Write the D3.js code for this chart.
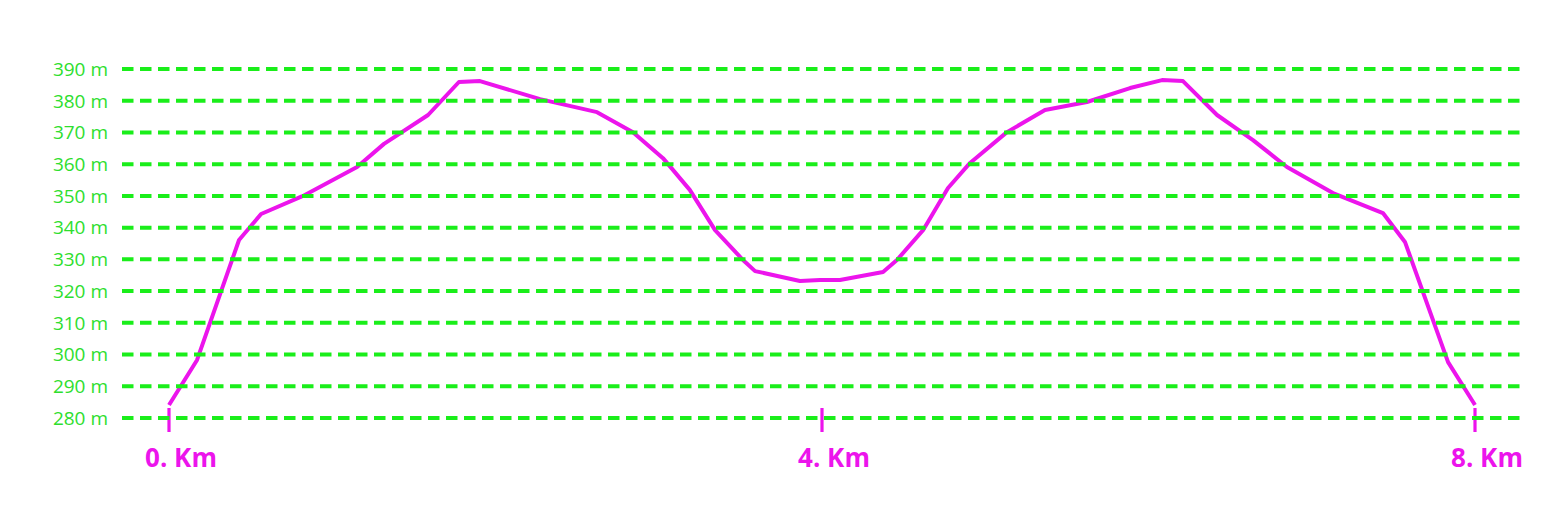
<!DOCTYPE html>
<html>
<head>
<meta charset="utf-8">
<script src="https://cdn.jsdelivr.net/npm/d3@7"></script>
<style>
  html, body { margin: 0; padding: 0; background: #ffffff; }
  svg { display: block; }
</style>
</head>
<body>
<svg id="chart" width="1559" height="510"></svg>
<script>
// ---- data ----
const distanceKm = [0, 0.172, 0.429, 0.564, 0.821, 1.152, 1.317, 1.587, 1.776, 1.905,
  2.273, 2.622, 2.842, 3.026, 3.19, 3.345, 3.516, 3.59, 3.865, 3.988,
  4.11, 4.374, 4.459, 4.619, 4.772, 4.907, 5.133, 5.366, 5.623, 5.887,
  6.083, 6.211, 6.42, 6.64, 6.848, 7.13, 7.436, 7.571, 7.835, 8.0];
const elevationM = [284.1, 298.3, 336.1, 344.3, 350.0, 359.1, 366.4, 375.5, 385.9, 386.2,
  380.5, 376.4, 370.1, 361.9, 351.9, 339.2, 329.8, 326.3, 323.2, 323.5,
  323.5, 326.0, 329.8, 339.2, 352.5, 360.4, 370.1, 377.1, 379.6, 384.0,
  386.5, 386.2, 375.5, 367.6, 359.1, 350.9, 344.6, 335.5, 297.6, 284.1];
const yTickValues = [280, 290, 300, 310, 320, 330, 340, 350, 360, 370, 380, 390];
const yTickLabels = ["280 m", "290 m", "300 m", "310 m", "320 m", "330 m", "340 m", "350 m", "360 m", "370 m", "380 m", "390 m"];
const xTickValues = [0, 4, 8];
const xTickLabels = ["0. Km", "4. Km", "8. Km"];

// ---- layout ----
const svg = d3.select("#chart");
const x = d3.scaleLinear().domain([0, 8]).range([169, 1475]);
const y = d3.scaleLinear().domain([280, 390]).range([418, 69]);
const gridX0 = 122, gridX1 = 1520;
const green = "#1aee1a", greenText = "#2ede2e", magenta = "#ec14ec";

const points = distanceKm.map((d, i) => [d, elevationM[i]]);

// profile line
svg.append("path")
  .datum(points)
  .attr("fill", "none")
  .attr("stroke", magenta)
  .attr("stroke-width", 4)
  .attr("stroke-linejoin", "round")
  .attr("d", d3.line().x(d => x(d[0])).y(d => y(d[1])));

// x ticks
const xAxis = svg.append("g");
xAxis.selectAll("line").data(xTickValues).join("line")
  .attr("x1", d => x(d)).attr("x2", d => x(d))
  .attr("y1", 408).attr("y2", 432)
  .attr("stroke", magenta).attr("stroke-width", 3.2);
xAxis.selectAll("text").data(xTickValues).join("text")
  .attr("x", d => x(d) + 12).attr("y", 467)
  .attr("text-anchor", "middle")
  .attr("font-family", "'Open Sans', sans-serif")
  .attr("font-weight", "bold")
  .attr("font-size", 26)
  .attr("fill", magenta)
  .text((d, i) => xTickLabels[i]);

// grid lines
const grid = svg.append("g");
grid.selectAll("line").data(yTickValues).join("line")
  .attr("x1", gridX0).attr("x2", gridX1)
  .attr("y1", d => y(d)).attr("y2", d => y(d))
  .attr("stroke", green).attr("stroke-width", 4)
  .attr("stroke-dasharray", "11.5,6.5");

// y labels
svg.append("g").selectAll("text").data(yTickValues).join("text")
  .attr("x", 108).attr("y", d => y(d))
  .attr("dy", "0.36em")
  .attr("text-anchor", "end")
  .attr("font-family", "'Open Sans', sans-serif")
  .attr("font-size", 19)
  .attr("fill", greenText)
  .text((d, i) => yTickLabels[i]);
</script>
</body>
</html>
